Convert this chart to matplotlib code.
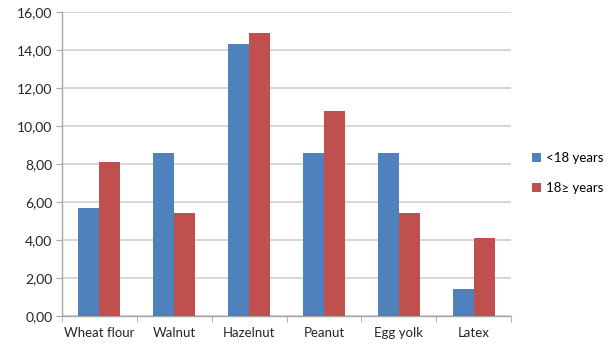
import numpy as np
import matplotlib.pyplot as plt
from matplotlib.ticker import FuncFormatter

categories = ["Wheat flour", "Walnut", "Hazelnut", "Peanut", "Egg yolk", "Latex"]
under_18 = [5.7, 8.6, 14.3, 8.6, 8.6, 1.4]
over_18 = [8.1, 5.4, 14.9, 10.8, 5.4, 4.1]
series_names = ["<18 years", "18\u2265 years"]

plt.rcParams["font.family"] = ["Lato", "DejaVu Sans"]

fig = plt.figure(figsize=(6.14, 3.47), dpi=100)
ax = fig.add_axes([62 / 614, 31 / 347, 449 / 614, 304 / 347])

x = np.arange(len(categories))
w = 0.28
ax.bar(x - w / 2, under_18, w, color="#4F81BD", label=series_names[0], zorder=3)
ax.bar(x + w / 2, over_18, w, color="#C0504D", label=series_names[1], zorder=3)

ax.set_xlim(-0.5, len(categories) - 0.5)
ax.set_ylim(0, 16)
ax.set_yticks(np.arange(0, 17, 2))
ax.yaxis.set_major_formatter(FuncFormatter(lambda v, p: f"{v:.2f}".replace(".", ",")))
ax.set_xticks(x)
ax.set_xticklabels(categories)
ax.set_xticks(np.arange(-0.5, len(categories), 1), minor=True)

ax.grid(axis="y", color="#D0D0D0", linewidth=1.2, zorder=0)
for side in ("top", "right"):
    ax.spines[side].set_visible(False)
for side in ("left", "bottom"):
    ax.spines[side].set_color("#A6A6A6")
    ax.spines[side].set_linewidth(1.0)

ax.tick_params(axis="x", which="major", length=0, pad=8, labelsize=9.5, colors="#262626")
ax.tick_params(axis="x", which="minor", length=4, color="#A6A6A6")
ax.tick_params(axis="y", length=4, color="#A6A6A6", labelsize=10, labelcolor="#262626", pad=3)

ax.legend(loc="center left", bbox_to_anchor=(1.02, 0.47), frameon=False,
          fontsize=9.5, handlelength=0.7, handleheight=0.7, handletextpad=0.4,
          labelspacing=1.4)

fig.savefig("out.png", dpi=100)
